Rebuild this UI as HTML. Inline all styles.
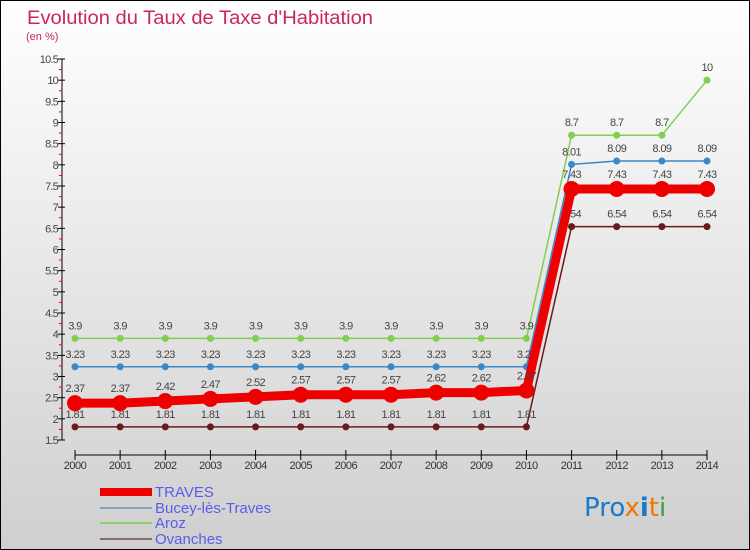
<!DOCTYPE html>
<html><head><meta charset="utf-8"><style>
body{margin:0;padding:0}
svg{display:block;font-family:"Liberation Sans",sans-serif}
</style></head><body>
<svg id="chart" width="750" height="550" xmlns="http://www.w3.org/2000/svg">
<defs><linearGradient id="bg" x1="0" y1="0" x2="0" y2="1"><stop offset="0" stop-color="#ffffff"/><stop offset="1" stop-color="#cfcfcf"/></linearGradient></defs>
<rect x="0.5" y="0.5" width="749" height="549" fill="url(#bg)" stroke="#000"/>
<text x="27" y="24" font-size="19" fill="#c8285a" textLength="346" lengthAdjust="spacingAndGlyphs">Evolution du Taux de Taxe d'Habitation</text>
<text x="26" y="40" font-size="11" fill="#c8285a">(en %)</text>
<g id="axes"></g>
<g id="series"></g>
<g id="legend">
<rect x="100" y="488" width="52" height="8" fill="#ee0000"/>
<text x="155" y="497" font-size="15" fill="#5b5bf0">TRAVES</text>
<rect x="100" y="507" width="52" height="2" fill="#7ba6c8"/>
<text x="155" y="513" font-size="15" fill="#5b5bf0">Bucey-lès-Traves</text>
<rect x="100" y="522" width="52" height="2" fill="#8ed070"/>
<text x="155" y="528" font-size="15" fill="#5b5bf0">Aroz</text>
<rect x="100" y="538" width="52" height="2" fill="#8a6a6a"/>
<text x="155" y="544" font-size="15" fill="#5b5bf0">Ovanches</text>
</g>
<text x="584" y="516" font-size="26" font-family="DejaVu Sans,sans-serif"><tspan fill="#1e78c8">Pro</tspan><tspan fill="#f07800">x</tspan><tspan fill="#1e78c8" font-weight="bold">i</tspan><tspan fill="#f07800">t</tspan><tspan fill="#40a040">i</tspan></text>
</svg>
<script>
const years=[2000,2001,2002,2003,2004,2005,2006,2007,2008,2009,2010,2011,2012,2013,2014];
const traves=[2.37,2.37,2.42,2.47,2.52,2.57,2.57,2.57,2.62,2.62,2.67,7.43,7.43,7.43,7.43];
const bucey=[3.23,3.23,3.23,3.23,3.23,3.23,3.23,3.23,3.23,3.23,3.23,8.01,8.09,8.09,8.09];
const aroz=[3.9,3.9,3.9,3.9,3.9,3.9,3.9,3.9,3.9,3.9,3.9,8.7,8.7,8.7,10];
const ovanches=[1.81,1.81,1.81,1.81,1.81,1.81,1.81,1.81,1.81,1.81,1.81,6.54,6.54,6.54,6.54];
const yTicks=[1.5,2,2.5,3,3.5,4,4.5,5,5.5,6,6.5,7,7.5,8,8.5,9,9.5,10,10.5];
const NS="http://www.w3.org/2000/svg";
const x=i=>75+i*(707-75)/(years.length-1);
const y=v=>440-(v-1.5)*(440-59)/9;
function mk(tag,attrs,parent,txt){const e=document.createElementNS(NS,tag);for(const k in attrs)e.setAttribute(k,attrs[k]);if(txt!==undefined)e.textContent=txt;parent.appendChild(e);return e;}
const ax=document.getElementById('axes');
let l=mk('line',{x1:62,y1:y(10.5),x2:62,y2:y(1.5),stroke:'#000'},ax);


yTicks.forEach((t,i)=>{
  const tl=mk('line',{x1:58,x2:65,y1:y(t),y2:y(t),stroke:'#000'},ax);
  
  
  const tx=mk('text',{x:58,y:y(t)+4,'font-size':11,'text-anchor':'end',fill:'#444','letter-spacing':'-0.8'},ax,String(t));
  
  
  if(i<yTicks.length-1){const m=mk('line',{x1:59,x2:62,y1:y(t+0.25),y2:y(t+0.25),stroke:'#e00'},ax);
  
  }
});
l=mk('line',{x1:x(0),x2:x(years.length-1),y1:455,y2:455,stroke:'#000'},ax);


years.forEach((yr,i)=>{
  const tl=mk('line',{x1:x(i),x2:x(i),y1:450,y2:460,stroke:'#000'},ax);
  
  
  const tx=mk('text',{x:x(i),y:469,'font-size':11,'text-anchor':'middle',fill:'#333','letter-spacing':'-0.5'},ax,String(yr));
  
  
});
const sg=document.getElementById('series');
function series(name,vals,color,w,r,off){
  const g=mk('g',{},sg);
  
  
  const p=mk('polyline',{points:vals.map((v,i)=>x(i)+','+y(v)).join(' '),fill:'none',stroke:color,'stroke-width':w,'stroke-linejoin':'round'},g);
  
  
  vals.forEach((v,i)=>{
    const c=mk('circle',{cx:x(i),cy:y(v),r:r,fill:color},g);
    
    
    const t=mk('text',{x:x(i),y:y(v)-off,'font-size':11,'text-anchor':'middle',fill:'#444','letter-spacing':'-0.6'},g,String(v));
    
    
  });
}
series('ovanches',ovanches,'#6b1a1a',1.5,3.5,9);
series('aroz',aroz,'#80d050',1.5,3.5,9);
series('bucey',bucey,'#3a88c8',1.5,3.5,9);
series('traves',traves,'#ee0000',9,8,11);
</script>
</body></html>
